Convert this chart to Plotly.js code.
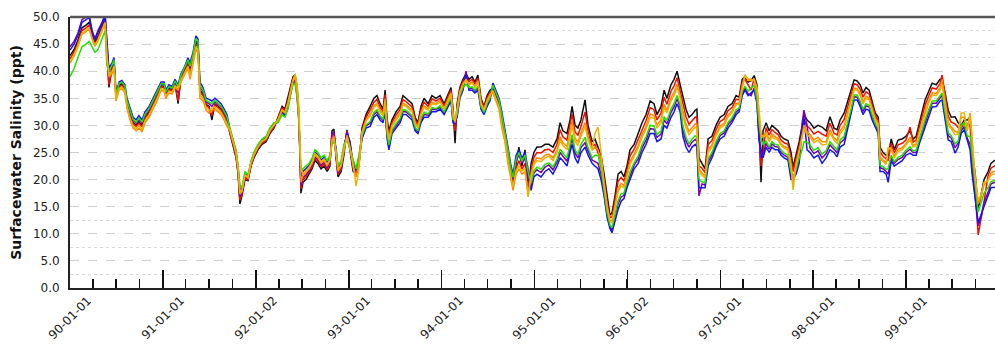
<!DOCTYPE html>
<html>
<head>
<meta charset="utf-8">
<script src="https://cdn.plot.ly/plotly-3.0.1.min.js"></script>
<style>
  html, body { margin: 0; padding: 0; background: #ffffff; }
  #chart { width: 995px; height: 360px; }
</style>
</head>
<body>
<div id="chart"></div>
<script>
const days = [
  0,16,31,47,63,75,87,98,110,126,138,145,
  153,165,173,181,193,204,216,224,236,248,260,271,283,295,311,326,342,358,370,377,389,401,413,425,436,452,464,472,484,495,503,511,523,535,547,558,570,582,594,606,617,
  629,641,653,661,668,676,688,700,712,723,739,755,771,786,802,
  818,834,845,857,869,877,885,893,900,
  908,916,928,940,952,963,975,987,999,1011,1022,1030,1038,1046,1054,1066,1077,1089,1101,1113,1125,1136,
  1148,1164,1180,1195,1207,1219,1231,1239,1247,1254,1266,1282,1298,1309,1321,1333,1345,1357,1368,1380,1392,1408,1423,1439,1455,1471,1486,1498,1506,1514,1522,1533,1545,1557,1569,1581,1592,1604,1616,1628,1640,1651,
  1663,1675,1687,1698,1710,1722,1734,1742,1754,1765,1777,1789,1801,
  1813,1824,1836,1852,1868,1883,1899,1915,1927,1938,1954,1966,1974,1986,1997,2009,2025,2037,2053,2064,2076,
  2088,2100,2112,2123,2131,2143,2155,2167,2178,2190,2202,2218,2234,2249,2265,2281,2296,2308,2324,2336,2347,2363,2375,2387,2399,2410,2422,2434,2446,2458,2465,
  2473,2485,2497,2509,2524,2540,2556,2572,2587,2603,2619,2631,2643,2654,2666,2678,2690,2701,2709,2717,2725,2737,2749,2760,2772,2784,2796,2808,2823,2835,2843,2855,2867,
  2879,2886,2898,2910,2925,2941,2957,2973,2988,3004,3016,3028,3044,3060,3072,3083,3095,3107,3118,3130,3142,3154,3166,3178,
  3185,3197,3209,3217,3229,3241,3256,3272,3287,3303,3315,3327,3342,3362,3378,3390,3406,3421,3429,3441,3453,3465,3480,3492,3504,3516,3528,3539,3547,3559,3571,3582,3594,3610,3621,3637
];

const salBlack = [
  42.9,44.0,45.7,48.0,48.5,49.0,46.6,45.3,46.5,48.1,49.6,43.8,
  37,40.5,41.5,35.3,37.3,37.6,36.8,34.1,32,30.5,30,30.7,29.9,31.5,32.5,34,35.5,37.3,37.2,35.8,36.8,36.5,37.8,34,38.8,40.3,41.5,40,42.5,45.3,44.8,36.5,35.8,33.9,33.5,31,34,33.5,33,32,30.9,
  28.5,26.5,24,21,15.5,17,20,19.8,22.5,24,25.5,26.5,27,28.5,29.5,
  31.5,33.5,33,35,37.5,39,39.3,37,32,
  17.5,19.5,20,21,22,23.5,23,22,22.5,21.5,22.5,29,29.3,24,20.5,21.5,24.5,29.2,25.5,21.5,21,22.5,
  29.5,32,33.5,35,35.5,34,33,36.5,31,29,31,32.5,33.5,35.5,35,34.5,34,31.5,30.5,33.5,35,34,35.5,35,35.5,34,35.5,37,33,26.7,34,37,38.5,39.5,38.5,39,38,39.3,35,33.5,35.5,36.5,
  36.9,35.5,34,31,28.3,24.5,21,19.5,22.8,26,22.5,25.5,17.5,
  23,25,26,26,26.5,26.5,26,27.5,30.5,29,28.5,31,33.5,30,29.5,31,34.7,30,27,27.5,26,
  24.5,21,16.5,13.5,13.8,17,21,21.5,20.5,22.5,25.5,26.5,28.5,30.5,32,34.5,34,32,33.5,36.5,35,37.5,38.5,40,37.5,35.5,33,31.5,32,32.8,33,
  24,23,22,27.5,28,30,31.5,32,33.5,34,35.5,35.2,38.5,39,38,38.2,39.2,37.5,30,19.5,29,30.5,29,30,29.5,29,28,27.5,27.2,25,22.3,24.5,27,
  30,32,31,30.5,29.5,30,29.7,29,31.6,29.5,29.2,31,32.3,34.7,36.5,38.4,38.2,37.5,36,37,36.5,34.5,32.3,31.5,
  26,25,24.5,24.5,27.5,25.5,27.3,27.5,28,29,27.5,28,31,34.7,36.5,37.8,37.5,38.5,38.5,36,32.8,31.5,31.6,30.5,30,31,31,31.5,25,21.2,14.5,17.5,20,21.5,23,23.6
];

const salRed = [
  42.3,43.5,45.2,47.5,48.0,48.5,46.3,45.0,46.1,47.8,49.3,43.4,
  37.5,40.3,41.3,35.1,37.1,37.4,36.6,33.9,31.8,30.3,29.8,30.4,29.7,31.3,32.3,33.8,35.3,37.1,37.0,35.6,36.6,36.4,37.6,34.5,38.6,40.1,41.3,39.7,42.3,45,44.5,36.2,35.5,33.7,33.2,31.8,33.8,33.3,32.8,31.8,30.7,
  28.7,26.7,24.3,21.3,16.2,17.3,20.3,20,22.7,24.2,25.7,26.7,27.2,28.7,29.7,
  31.3,33.2,32.7,34.6,37.2,38.7,39,36.6,31.7,
  18.3,20,20.5,21.4,22.4,23.9,23.4,22.4,22.9,21.9,22.9,28.2,28.5,24.5,20.9,21.9,24.9,29,26.5,21.9,21.3,22.8,
  29.1,31.5,32.8,34.3,34.8,33.4,32.5,35.7,30.3,28.3,30.5,31.9,32.9,34.8,34.4,33.9,33.4,31,30.1,32.9,34.3,33.5,34.9,34.5,35,33.6,35.1,36.5,32.5,29,33.5,36.6,38.1,39,38.1,38.5,37.6,38.7,34.6,33.2,35.1,36.1,
  36.5,35.1,33.6,30.4,27.8,23.9,20.4,18.9,22.1,23.5,21.9,23,19,
  22,24.1,25,24.9,25.5,25.6,25,26.5,29.2,27.9,27.3,29.8,32.1,28.8,28.2,29.8,32.5,28.9,26.2,26.5,25,
  23.5,20.2,15.8,13,13.1,16.1,19.7,20.4,19.7,21.7,24.4,25.6,27.4,29.4,30.9,33.3,32.9,31,32.3,35.2,33.9,36.3,37.3,38.8,36.5,34,31.6,30.2,30.8,31.5,31.6,
  22.5,22.1,21.3,26.5,27.2,29.2,30.7,31.2,32.7,33.3,34.8,34.7,37.9,38.5,37.5,36.5,38.6,36.8,28.5,22.5,25,29.6,28.2,29.2,28.7,28.3,27.3,26.8,26.5,24,21.5,23.8,26.2,
  29,31,29.9,29.4,28.4,28.9,28.4,28,30.4,28.6,28.2,30,31.1,33.7,35.6,37.7,37.5,36.7,35.2,36.2,35.8,33.8,31.8,30.9,
  25.1,24.3,23.8,23.5,26.7,24.9,26.4,26.7,27.3,29.7,26.9,27.3,30.2,33.7,35.6,36.9,36.7,37.7,39.3,35,31.7,30.6,30.3,29.6,29.5,30.5,30.2,30,23.5,17.5,9.8,12.5,16,20.8,22.1,22.6
];

const salOrange = [
  41.5,42.8,44.5,46.8,47.3,47.8,45.9,44.6,45.6,47.4,48.9,42.8,
  39,39.5,40.5,34.5,36.5,36.8,36,33.2,31,29.5,29,29.5,28.8,30.5,31.5,33,34.5,36.5,36.3,35,36,35.8,37,36.5,38,39.5,40.5,38.5,41.5,44,43.5,35,34.5,32.8,32.2,32.8,33,32.5,32,31,29.8,
  29,27,24.8,21.8,17.3,17.8,20.8,20.3,23,24.5,26,27,27.5,29,30,
  31.1,32.9,32.4,34.2,36.9,38.4,38.7,36.2,31.4,
  19.5,20.8,21.3,22,23,24.5,24,23,23.5,22.5,23.5,27.5,28,24.8,21.5,22.5,25.5,28.2,26,22.5,20.5,23.2,
  28.7,31,32,33.6,34.1,32.8,32,34.9,29.6,27.6,30,31.3,32.3,34.1,33.8,33.3,32.8,30.5,29.7,32.3,33.6,33,34.3,34,34.5,33.2,34.7,36,32,30.5,33,36.2,37.7,38.5,37.7,38,37.2,38.2,34.2,32.9,34.7,35.7,
  36,34.5,33,29.5,27,23,19.5,18,21,22,21,21.5,17.5,
  21,23.2,24,23.8,24.5,24.7,24,25.5,27.9,26.8,26.1,28.6,30.7,27.6,26.9,28.6,30.5,27.8,25.4,26,25.5,
  23.5,19.4,15.1,12.5,12.4,15.2,18.4,19.3,18.9,20.9,23.3,24.7,26.3,28.3,29.8,32.1,31.8,30,31.1,33.9,32.8,35.1,36.1,37.6,35.5,32.5,30.2,28.9,29.6,30.3,30.2,
  22,21.2,20.6,25.5,26.4,28.4,29.9,30.4,31.9,32.6,34.1,34.1,37.3,39.3,38.5,38.5,38.3,36.1,32,28,28,28.7,27.4,28.4,27.9,27.6,26.6,26.1,25.8,23,19.5,23.1,25.4,
  28,30,28.8,28.3,27.3,27.8,27,27,29.2,27.7,27.2,29,30,32.7,34.7,36.9,36.8,35.9,34.4,35.4,35,33.1,31.3,30.3,
  24.2,23.6,23.1,25.5,25.9,24.3,25.6,25.9,26.6,27.8,26.3,26.6,29.4,32.7,34.7,36,35.9,36.9,38.5,34,30.6,29.7,28.9,28.7,31.5,31.5,29.4,32.3,28,20,15.5,16.8,19,20,21.2,21.6
];

const salYellow = [
  41.8,43.0,44.8,47.0,47.5,48.0,46.0,44.8,45.8,47.5,49.0,43.0,
  39.3,39.9,40.9,34.8,36.8,37.1,36.3,33.6,31.4,29.9,29.4,30.0,29.2,30.9,31.9,33.4,34.9,36.8,36.6,35.3,36.3,36.1,37.3,36.8,38.3,39.8,40.9,39.1,41.9,44.5,44,35.6,35,33.2,32.7,33.2,33.4,32.9,32.4,31.4,30.2,
  29.1,27.1,24.9,21.9,17.6,17.9,20.9,20.4,23.1,24.6,26.1,27.1,27.6,29.1,30.1,
  31,32.8,32.3,34,36.8,38.3,39.5,37.5,33.5,
  22,21.1,21.6,22.3,23.3,24.8,24.3,23.3,23.8,22.8,23.8,27,27.5,25,21.8,22.8,25.8,27.8,25.8,22.8,18.8,22,
  28.5,30.8,31.7,33.3,33.8,32.5,31.8,34.5,29.3,27.3,29.8,31,32,33.8,33.5,33,32.5,30.3,29.5,32,33.3,32.8,34,33.8,34.3,33,34.5,35.8,31.8,30.8,32.8,36,37.5,38.3,37.5,37.8,37,37.9,34,32.8,34.5,35.5,
  36.4,34.9,33.4,30.1,27.5,23.6,20.1,18.6,21.7,22.5,21.6,22,16.8,
  20.5,22.8,23.5,23.3,24,24.3,23.5,25,27.3,26.3,25.5,28,30,27,26.3,28,29.8,27.3,25.5,28.5,29.7,
  25,19,14.8,12.3,12,14.8,17.8,18.8,18.5,20.5,22.8,24.3,25.8,27.8,29.3,31.5,31.3,29.5,30.5,33.3,32.3,34.5,35.5,37,35,31.8,29.5,28.3,29,29.7,29.5,
  21.5,20.8,20.3,25,26,28,29.5,30,31.5,32.3,33.8,33.9,37,39.3,38.3,38.3,38.5,37,33,28.5,27.8,28.3,27,28,27.5,27.3,26.3,25.8,25.4,22.5,18.1,22.8,25,
  27.5,29.5,28.3,27.8,26.8,27.3,26.4,26.5,28.6,27.3,26.7,28.5,29.4,32.2,34.3,36.6,36.5,35.5,34,35,34.7,32.8,31,30,
  23.8,23.3,22.8,26,25.5,24,25.2,25.5,26.3,27.3,26,26.3,29,32.2,34.3,35.6,35.5,36.5,37.5,33.5,30.1,29.3,28.3,28.3,32.3,32.3,29,32,27.5,20.5,16.2,17.2,19.5,19.8,20.8,21.1
];

const salGreen = [
  39,40.5,42.5,44.5,45,45.5,44.5,43.5,44,46,47.5,41,
  40,41.1,42.1,35.7,37.7,38.0,37.2,34.6,32.6,31.1,30.6,31.3,30.6,32.1,33.1,34.6,36.1,37.7,37.7,36.2,37.2,36.9,38.2,37.2,39.2,40.7,42.1,40.9,43.1,46,45.5,37.4,36.5,34.6,34.3,34,34.6,34.1,33.6,32.6,31.6,
  29.5,27.5,25.5,22.5,19,18.5,21.5,20.8,23.5,25,26.5,27.5,28,29.5,30.5,
  30.5,32,31.5,33,36,37.5,37.8,35,30.5,
  21.5,22,22.5,23,24,25.5,25,24,24.5,23.5,24.5,26.5,27,25.5,22.5,23.5,26.5,27.3,25.5,23.5,22,24.5,
  28,30.1,30.7,32.4,32.9,31.8,31.1,33.5,28.4,26.4,29.1,30.3,31.3,32.9,32.8,32.3,31.8,29.6,29,31.3,32.4,32.1,33.3,33.1,33.6,32.5,34,35.1,31.1,31,32.1,35.5,37,37.6,37,37.1,36.5,37.2,33.5,32.4,34,35,
  37.4,36.1,34.6,31.9,29,25.4,21.9,20.4,23.8,25,23.4,24.5,21.5,
  19.3,21.6,22.3,21.9,22.8,23.1,22.3,23.8,25.6,24.9,24,26.5,28.3,25.5,24.6,26.5,27.8,25.9,24,24.5,24.5,
  22,18,13.9,11.6,11.1,13.6,16.1,17.4,17.5,19.5,21.4,23.1,24.4,26.4,27.9,30,29.9,28.3,29,31.6,30.9,33,34,35.5,33.8,29.9,27.8,26.6,27.5,28.1,27.8,
  20,19.6,19.4,23.8,25,27,28.5,29,30.5,31.4,32.9,33.2,36.3,37.2,36.3,37,37.3,34.9,30.5,27.5,26.5,27.1,26,27,26.5,26.4,25.4,24.9,24.5,21.3,20.5,21.9,24,
  25.5,27,26.9,26.4,25.4,25.9,24.7,25.3,27,26.1,25.5,27.3,28,31,33.1,35.6,35.6,34.5,33,34,33.7,31.9,30.4,29.3,
  22.6,22.4,21.9,22,24.5,23.3,24.1,24.5,25.4,26.1,25.3,25.4,28,31,33.1,34.5,34.5,35.5,36,32.3,28.7,28.1,26.6,27.1,30,30.5,28,28,24,19,14,15.5,17.5,18.5,19.6,19.9
];

const salBlue = [
  43.9,45.0,46.6,49.0,49.5,50.0,47.2,45.8,47.2,48.7,50.2,44.6,
  40.5,41.5,42.5,36,38,38.3,37.5,35,33,31.5,31,31.8,31,32.5,33.5,35,36.5,38,38,36.5,37.5,37.2,38.5,37.5,39.5,41,42.5,41.5,43.5,46.5,46,38,37,35,34.8,34.5,35,34.5,34,33,32,
  29.3,27.3,25.2,22.2,18.3,18.2,21.2,20.6,23.3,24.8,26.3,27.3,27.8,29.3,30.3,
  30.7,32.3,31.8,33.4,36.3,37.8,38.1,35.4,30.8,
  20.7,21.5,22,22.6,23.6,25.1,24.6,23.6,24.1,23.1,24.1,26.8,27.5,26,22.1,23.1,26.1,28.5,27,23.1,21.6,24,
  27.5,29.5,29.8,31.5,32,31,30.5,32.5,27.5,25.5,28.5,29.5,30.5,32,32,31.5,31,29,28.5,30.5,31.5,31.5,32.5,32.5,33,32,33.5,34.5,30.5,30.5,31.5,35,36.5,39.3,36.5,36.5,36,36.5,33,32,33.5,34.5,
  37.8,36.5,35,32.5,29.5,26,22.5,21,24.5,25.5,24,25,22,
  18,20.5,21,20.5,21.5,22,21,22.5,24,23.5,22.5,25,26.5,24,23,25,26,24.5,23,22.5,22,
  20,17,13,11,10.2,12.5,14.5,16,16.5,18.5,20,22,23,25,26.5,28.5,28.5,27,27.5,30,29.5,31.5,32.5,34,32.5,28,26,25,26,26.5,26,
  18.5,18.5,18.5,22.5,24,26,27.5,28,29.5,30.5,32,32.5,35.5,36.5,35.5,36,36.5,34,27.5,25.5,24,26,25,26,25.5,25.5,24.5,24,23.6,20,20,21,23,
  29.5,31.5,25.5,25,24,24.5,23,24,25.5,25,24.2,26,26.5,29.7,32,34.7,34.7,33.5,32,33,32.8,31,29.7,28.5,
  21.5,21.5,21,19.5,23.5,22.5,23,23.5,24.5,24.9,24.5,24.5,27,29.7,32,33.4,33.5,34.5,34.7,31,27.3,27,24.9,26,28.5,29.2,27,25.5,21,16.2,12,13.5,15,17,18.5,18.6
];

const salPurple = [
  44.5,45.5,47,49.5,50,50.5,47.5,46,47.5,49,50.5,45,
  39.8,40.9,41.9,35.6,37.6,37.9,37.1,34.5,32.4,30.9,30.4,31.1,30.3,31.9,32.9,34.4,35.9,37.6,37.5,36.1,37.1,36.8,38.1,36,39.1,40.6,41.9,40.6,42.9,45.8,45.3,37.1,36.3,34.3,34.0,33.5,34.4,33.9,33.4,32.4,31.3,
  28.9,26.9,24.6,21.6,16.9,17.6,20.6,20.2,22.9,24.4,25.9,26.9,27.4,28.9,29.9,
  30.9,32.6,32.1,33.8,36.6,38.1,38.4,35.8,31.1,
  18.9,20.4,20.9,21.7,22.7,24.2,23.7,22.7,23.2,22.2,23.2,28.5,28.8,24.5,21.2,22.2,25.2,28.8,26.8,22.2,21,23,
  27.8,29.9,30.4,32,32.5,31.5,30.9,33.1,28,26,28.9,30,31,32.5,32.5,32,31.5,29.4,28.8,31,32,31.9,33,32.9,33.4,32.3,33.8,34.9,30.9,30.2,31.9,35.3,36.8,40,36.8,36.9,36.3,36.9,33.3,32.2,33.8,34.8,
  37.3,35.9,34.4,31.6,28.8,25.1,21.6,20.1,23.5,24.5,23.1,24,20,
  18.8,21.2,21.8,21.3,22.3,22.7,21.8,23.3,25,24.3,23.4,25.9,27.6,24.9,24,25.9,26.8,25.3,23.6,23.3,23,
  21,17.6,13.5,11.4,10.7,13.2,15.5,16.8,17.1,19.1,20.8,22.7,23.8,25.8,27.3,29.4,29.3,27.8,28.4,31,30.3,32.4,33.4,34.9,33.3,29.1,27.1,26,26.9,27.4,27.1,
  17,19.2,19,23.3,24.6,26.6,28.1,28.6,30.1,31,32.5,32.9,36,36.9,35.8,35.5,36.9,34.5,28,24,24.5,26.7,25.6,26.6,26.1,26,25,24.5,24.1,20.8,20.3,21.5,23.6,
  30.5,32.8,30,25.8,24.8,25.3,24,24.8,26.4,25.7,25,26.8,27.4,30.5,32.7,35.3,35.2,34.1,32.6,33.6,33.4,31.5,30.1,29,
  22.2,22,21.5,21,24.1,23,23.7,24.1,25,25.6,25,25,27.6,30.5,32.7,34.1,34.1,35.1,35.5,31.8,28.1,27.7,25.9,26.7,29,29.8,27.6,26.5,22,17,11.5,13,15.8,17.7,19.2,19.5
];

// Year tick positions and their labels as printed on the chart
const yearTicks = ['1990-01-01','1991-01-01','1992-01-02','1993-01-01','1994-01-01',
                   '1995-01-01','1996-01-02','1997-01-01','1998-01-01','1999-01-01'];
const yearLabels = ['90-01-01','91-01-01','92-01-02','93-01-01','94-01-01',
                    '95-01-01','96-01-02','97-01-01','98-01-01','99-01-01'];

const seriesList = [
  { name: 'Black',  values: salBlack,  color: '#111111' },
  { name: 'Red',    values: salRed,    color: '#ee1100' },
  { name: 'Purple', values: salPurple, color: '#7a00b0' },
  { name: 'Blue',   values: salBlue,   color: '#1515ee' },
  { name: 'Green',  values: salGreen,  color: '#22e000' },
  { name: 'Orange', values: salOrange, color: '#ff8800' },
  { name: 'Yellow', values: salYellow, color: '#e8b400' }
];

const base = Date.UTC(1990, 0, 1);
const dates = days.map(d => new Date(base + d * 86400000).toISOString().slice(0, 10));

const traces = seriesList.map(s => ({
  type: 'scatter',
  mode: 'lines',
  name: s.name,
  x: dates,
  y: s.values,
  line: { color: s.color, width: 1.5 },
  cliponaxis: true
}));

const FONT = 'DejaVu Sans, Liberation Sans, Arial, sans-serif';

// Rotated year labels centred on their ticks (as in the original)
const yearAnnotations = yearTicks.map((t, i) => ({
  x: t, xref: 'x',
  y: -0.112, yref: 'paper',
  text: yearLabels[i],
  textangle: -45,
  showarrow: false,
  xanchor: 'center', yanchor: 'middle',
  font: { family: FONT, size: 12, color: '#222222' }
}));

const layout = {
  width: 995,
  height: 360,
  margin: { l: 70, r: 0, t: 17, b: 72 },
  paper_bgcolor: '#ffffff',
  plot_bgcolor: '#ffffff',
  showlegend: false,
  font: { family: FONT, size: 12, color: '#222222' },
  xaxis: {
    type: 'date',
    range: ['1990-01-01', '1999-12-17'],
    tickmode: 'array',
    tickvals: yearTicks,
    ticktext: yearLabels,
    showticklabels: false,
    ticks: 'inside',
    ticklen: 18,
    tickwidth: 1.5,
    tickcolor: '#111111',
    minor: { dtick: 'M3', tick0: '1990-01-01', ticks: 'inside', ticklen: 9, tickwidth: 1.5, tickcolor: '#111111', showgrid: false },
    showgrid: false,
    zeroline: false,
    showline: true,
    linecolor: '#222222',
    linewidth: 2,
    fixedrange: true
  },
  yaxis: {
    range: [0, 50],
    dtick: 5,
    tick0: 0,
    tickformat: '.1f',
    ticks: 'outside',
    ticklen: 6,
    tickcolor: 'rgba(0,0,0,0)',
    tickfont: { family: FONT, size: 12, color: '#222222' },
    showgrid: true,
    gridcolor: '#cfcfcf',
    griddash: 'dash',
    gridwidth: 1,
    minor: { dtick: 2.5, showgrid: true, gridcolor: '#dadada', griddash: 'dot', gridwidth: 1, ticks: '' },
    zeroline: false,
    showline: true,
    linecolor: '#222222',
    linewidth: 2,
    title: {
      text: 'Surfacewater Salinity (ppt)',
      font: { family: FONT, size: 14, color: '#111111', weight: 'bold' },
      standoff: 8
    },
    fixedrange: true
  },
  annotations: yearAnnotations,
  shapes: [
    { type: 'line', xref: 'paper', yref: 'paper', x0: 0, x1: 1, y0: 1, y1: 1,
      line: { color: '#555555', width: 2.5 } }
  ]
};

Plotly.newPlot('chart', traces, layout, { staticPlot: true, displayModeBar: false });
</script>
</body>
</html>
